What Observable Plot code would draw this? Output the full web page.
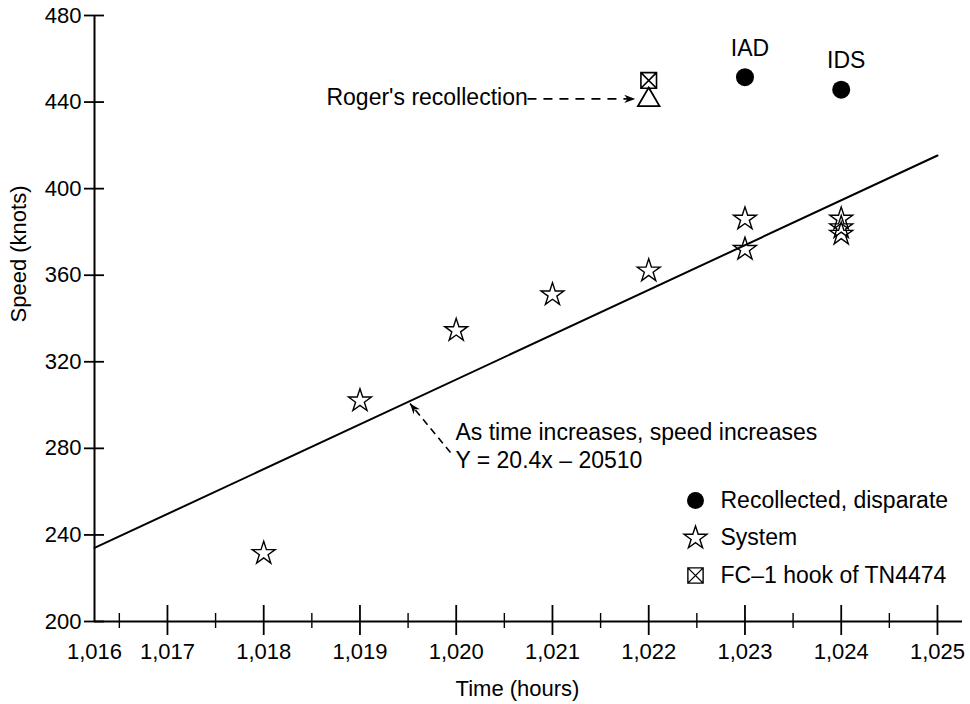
<!DOCTYPE html>
<html><head><meta charset="utf-8">
<script src="https://cdn.jsdelivr.net/npm/d3@7"></script>
<script src="https://cdn.jsdelivr.net/npm/@observablehq/plot@0.6"></script>
<style>body{margin:0;background:#fff}</style>
</head><body><div id="chart"></div>
<script>
// ---- data ----
const xTickValues = [1016, 1017, 1018, 1019, 1020, 1021, 1022, 1023, 1024, 1025];
const xTickLabels = ["1,016", "1,017", "1,018", "1,019", "1,020", "1,021", "1,022", "1,023", "1,024", "1,025"];
const xMinorTicks = [1016.5, 1017.5, 1018.5, 1019.5, 1020.5, 1021.5, 1022.5, 1023.5, 1024.5];
const yTickValues = [200, 240, 280, 320, 360, 400, 440, 480];
const xDomain = [1016.242, 1025.26];
const yDomain = [200, 480];

const systemTimes  = [1018, 1019, 1020,  1021, 1022, 1023, 1023, 1024, 1024, 1024];
const systemSpeeds = [231.5, 302, 334.5, 351,  362,  386,  372,  386,  382,  379];

const recollectedNames  = ["IAD", "IDS"];
const recollectedTimes  = [1023, 1024];
const recollectedSpeeds = [451.5, 445.7];

const fc1Times  = [1022];
const fc1Speeds = [450];

const rogerTimes  = [1022];
const rogerSpeeds = [441];
const rogerLabel  = "Roger's recollection";
const rogerArrowTimes = [1020.74, 1021.86];

const fitTimes  = [1016.242, 1025];
const fitSpeeds = [234, 415.3];
const fitLabel  = "As time increases, speed increases\nY = 20.4x \u2013 20510";
const fitArrowTimes  = [1019.94, 1019.52];
const fitArrowSpeeds = [278.1, 300.7];

const legendLabels = ["Recollected, disparate", "System", "FC\u20131 hook of TN4474"];

// ---- tables ----
const system = systemTimes.map((t, i) => ({time: t, speed: systemSpeeds[i]}));
const recollected = recollectedTimes.map((t, i) => ({time: t, speed: recollectedSpeeds[i], name: recollectedNames[i]}));
const fc1 = fc1Times.map((t, i) => ({time: t, speed: fc1Speeds[i]}));
const roger = rogerTimes.map((t, i) => ({time: t, speed: rogerSpeeds[i], label: rogerLabel}));
const fit = fitTimes.map((t, i) => ({time: t, speed: fitSpeeds[i]}));
const rogerArrow = [{x1: rogerArrowTimes[0], x2: rogerArrowTimes[1], y: rogerSpeeds[0]}];
const fitArrow = [{x1: fitArrowTimes[0], y1: fitArrowSpeeds[0], x2: fitArrowTimes[1], y2: fitArrowSpeeds[1], label: fitLabel}];

const labelPos = xTickValues.map(v => Math.max(v, xDomain[0]));
const labelMap = new Map(labelPos.map((v, i) => [v, xTickLabels[i]]));

// ---- symbols ----
const squareX = {draw(ctx, size) {
  const h = Math.sqrt(size) / 2;
  ctx.moveTo(-h, -h); ctx.lineTo(h, -h); ctx.lineTo(h, h); ctx.lineTo(-h, h); ctx.closePath();
  ctx.moveTo(-h, -h); ctx.lineTo(h, h);
  ctx.moveTo(h, -h); ctx.lineTo(-h, h);
}};
const arrowHead = {draw(ctx, size) {
  const l = Math.sqrt(size);
  ctx.moveTo(0, 0); ctx.lineTo(-l, -l * 0.38); ctx.lineTo(-l * 0.7, 0); ctx.lineTo(-l, l * 0.38); ctx.closePath();
}};

const legendSymbolSpecs = [
  {symbol: "circle", r: 8.5, fill: "black", stroke: "none"},
  {symbol: "star", r: 7.2, fill: "none", stroke: "black"},
  {symbol: squareX, r: 8.6, fill: "none", stroke: "black"}
];

const legendMarks = legendLabels.flatMap((label, i) => [
  Plot.dot([label], {frameAnchor: "top-left", dx: 601, dy: 485 + 37.5 * i, strokeWidth: 1.4, ...legendSymbolSpecs[i]}),
  Plot.text([label], {frameAnchor: "top-left", dx: 626, dy: 485 + 37.5 * i, text: d => d, textAnchor: "start", lineAnchor: "middle", fontSize: 23})
]);

const chart = Plot.plot({
  width: 970,
  height: 704,
  marginTop: 15,
  marginBottom: 83,
  marginLeft: 94,
  marginRight: 8,
  x: {domain: xDomain},
  y: {domain: yDomain},
  style: {fontFamily: "'Liberation Sans', Arial, Helvetica, sans-serif", fontSize: "22px", color: "black", background: "white", overflow: "visible"},
  marks: [
    // axes lines
    Plot.ruleX([xDomain[0]], {strokeWidth: 2}),
    Plot.ruleY([yDomain[0]], {strokeWidth: 2}),
    // y ticks crossing the axis
    Plot.ruleY(yTickValues, {x1: xDomain[0], x2: xDomain[0], insetLeft: -10, insetRight: -10, strokeWidth: 1.8}),
    // y labels
    Plot.axisY(yTickValues, {tickSize: 0, tickPadding: 13, fontSize: 22, label: null}),
    // x major ticks (crossing)
    Plot.ruleX(xTickValues.slice(1), {y1: yDomain[0], y2: yDomain[0], insetTop: -16, insetBottom: -14, strokeWidth: 1.8}),
    // x minor ticks (crossing)
    Plot.ruleX(xMinorTicks, {y1: yDomain[0], y2: yDomain[0], insetTop: -8, insetBottom: -7, strokeWidth: 1.4}),
    // x labels
    Plot.axisX(labelPos, {tickSize: 0, tickPadding: 22, tickFormat: d => labelMap.get(d), fontSize: 22, label: null}),
    // axis titles
    Plot.text(["Speed (knots)"], {frameAnchor: "left", rotate: -90, dx: -76, dy: 4, text: d => d, fontSize: 22, lineAnchor: "middle"}),
    Plot.text(["Time (hours)"], {frameAnchor: "bottom", dx: -11, dy: 67, text: d => d, fontSize: 22, lineAnchor: "middle"}),
    // regression line
    Plot.line(fit, {x: "time", y: "speed", strokeWidth: 2}),
    // system stars
    Plot.dot(system, {x: "time", y: "speed", symbol: "star", r: 7.2, stroke: "black", strokeWidth: 1.4, fill: "none"}),
    // recollected dots
    Plot.dot(recollected, {x: "time", y: "speed", symbol: "circle", r: 9, fill: "black"}),
    Plot.text(recollected, {x: "time", y: "speed", text: "name", dx: 5, dy: -29, fontSize: 23, lineAnchor: "middle"}),
    // FC-1 hook
    Plot.dot(fc1, {x: "time", y: "speed", symbol: squareX, r: 8.8, stroke: "black", strokeWidth: 1.6, fill: "none"}),
    // Roger's recollection
    Plot.dot(roger, {x: "time", y: "speed", symbol: "triangle", r: 8, stroke: "black", strokeWidth: 1.8, fill: "none"}),
    Plot.text(roger, {x: "time", y: "speed", text: "label", textAnchor: "end", dx: -121, dy: -2, fontSize: 23, lineAnchor: "middle"}),
    Plot.link(rogerArrow, {x1: "x1", x2: "x2", y1: "y", y2: "y", dy: -1, strokeWidth: 1.6, strokeDasharray: "9,7"}),
    Plot.dot(rogerArrow, {x: "x2", y: "y", dy: -1, symbol: arrowHead, r: 6.2, fill: "black", rotate: 0}),
    // regression annotation
    Plot.link(fitArrow, {x1: "x1", y1: "y1", x2: "x2", y2: "y2", strokeWidth: 1.6, strokeDasharray: "7,5"}),
    Plot.dot(fitArrow, {x: "x2", y: "y2", symbol: arrowHead, r: 6, fill: "black", rotate: -129}),
    Plot.text(fitArrow, {x: "x1", y: "y1", text: "label", textAnchor: "start", dx: 5, dy: -7, lineAnchor: "middle", lineHeight: 1.22, fontSize: 23}),
    // legend
    ...legendMarks
  ]
});
document.getElementById("chart").appendChild(chart);
</script>
</body></html>
